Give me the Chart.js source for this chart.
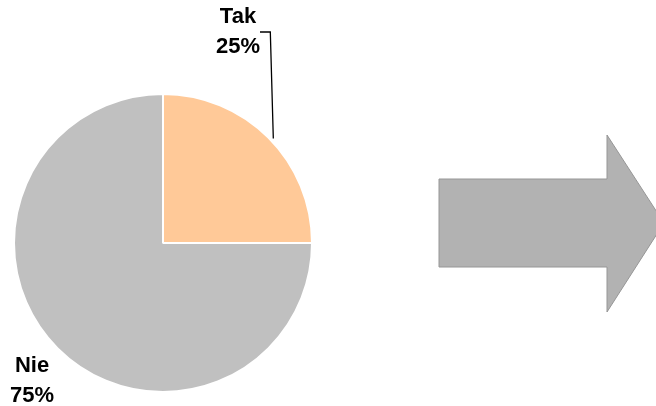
<!DOCTYPE html>
<html>
<head>
<meta charset="utf-8">
<script src="https://cdn.jsdelivr.net/npm/chart.js@4"></script>
<style>
  html,body{margin:0;padding:0;background:#fff;}
  #wrap{position:relative;width:656px;height:406px;}
</style>
</head>
<body>
<div id="wrap"><canvas id="pie" width="656" height="406"></canvas></div>
<script>
// Data
const categories = ['Tak', 'Nie'];
const shares = [25, 75];
const sliceColors = ['#FFC998', '#C0C0C0'];

// label placement (label centre, relative to canvas)
const labelSpots = [
  {x: 238, y: 17, leader: true},
  {x: 32, y: 366, leader: false}
];

const FONT = 'bold 22px "Liberation Sans", Arial, sans-serif';

// Arrow decoration on the right
const arrowPlugin = {
  id: 'arrow',
  beforeDraw(chart){
    const ctx = chart.ctx;
    ctx.save();
    ctx.beginPath();
    ctx.moveTo(439, 179);
    ctx.lineTo(607, 179);
    ctx.lineTo(607, 135);
    ctx.lineTo(664, 223);
    ctx.lineTo(607, 312);
    ctx.lineTo(607, 267);
    ctx.lineTo(439, 267);
    ctx.closePath();
    ctx.fillStyle = '#B2B2B2';
    ctx.fill();
    ctx.strokeStyle = '#969696';
    ctx.lineWidth = 1;
    ctx.stroke();
    ctx.restore();
  }
};

// Slice labels + leader line
const labelPlugin = {
  id: 'sliceLabels',
  afterDraw(chart){
    const ctx = chart.ctx;
    const meta = chart.getDatasetMeta(0);
    const total = shares.reduce((a,b)=>a+b,0);
    ctx.save();
    ctx.font = FONT;
    ctx.fillStyle = '#000';
    ctx.textAlign = 'center';
    ctx.textBaseline = 'middle';
    meta.data.forEach((arc, i)=>{
      const spot = labelSpots[i];
      const pct = Math.round(shares[i] / total * 100) + '%';
      ctx.fillText(categories[i], spot.x, spot.y);
      ctx.fillText(pct, spot.x, spot.y + 30);
      if(spot.leader){
        const p = arc.getProps(['x','y','startAngle','endAngle','outerRadius'], true);
        const a = p.startAngle + (p.endAngle - p.startAngle) * 0.517;
        const ex = p.x + Math.cos(a) * (p.outerRadius + 3);
        const ey = p.y + Math.sin(a) * (p.outerRadius + 3);
        ctx.beginPath();
        ctx.moveTo(260, spot.y + 15);
        ctx.lineTo(ex - 3, spot.y + 15);
        ctx.lineTo(ex, ey);
        ctx.strokeStyle = '#000';
        ctx.lineWidth = 1.3;
        ctx.stroke();
      }
    });
    ctx.restore();
  }
};

new Chart(document.getElementById('pie'), {
  type: 'pie',
  data: {
    labels: categories,
    datasets: [{
      data: shares,
      backgroundColor: sliceColors,
      borderColor: '#FFFFFF',
      borderWidth: 2
    }]
  },
  options: {
    responsive: false,
    animation: false,
    layout: {padding: {left: 13, top: 93, right: 343, bottom: 13}},
    plugins: {legend: {display: false}, tooltip: {enabled: false}}
  },
  plugins: [arrowPlugin, labelPlugin]
});
</script>
</body>
</html>
